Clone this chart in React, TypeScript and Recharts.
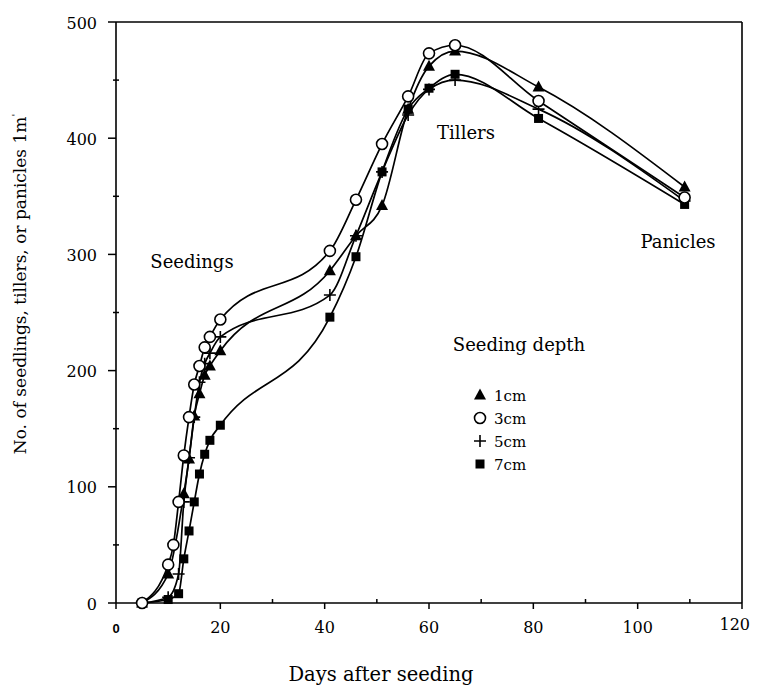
import React from "react";
import { LineChart, Line, XAxis, YAxis, ReferenceLine } from "recharts";

// ---- data ----
const days1 = [5, 10, 13, 14, 15, 16, 17, 18, 20, 41, 46, 51, 56, 60, 65, 81, 109];
const vals1 = [0, 25, 94, 124, 161, 180, 196, 204, 217, 286, 316, 342, 425, 462, 475, 444, 358];

const days3 = [5, 10, 11, 12, 13, 14, 15, 16, 17, 18, 20, 41, 46, 51, 56, 60, 65, 81, 109];
const vals3 = [0, 33, 50, 87, 127, 160, 188, 204, 220, 229, 244, 303, 347, 395, 436, 473, 480, 432, 349];

const days5 = [5, 10, 12, 13, 14, 15, 16, 17, 18, 20, 41, 46, 51, 56, 60, 65, 81, 109];
const vals5 = [0, 5, 25, 87, 125, 160, 190, 206, 215, 229, 265, 316, 371, 420, 442, 450, 425, 346];

const days7 = [5, 10, 12, 13, 14, 15, 16, 17, 18, 20, 41, 46, 51, 56, 60, 65, 81, 109];
const vals7 = [0, 3, 8, 38, 62, 87, 111, 128, 140, 153, 246, 298, 371, 425, 443, 455, 417, 343];

const xTicks = [0, 10, 20, 30, 40, 50, 60, 70, 80, 90, 100, 110, 120];
const xMajor = [0, 20, 40, 60, 80, 100, 120];
const yTicks = [0, 50, 100, 150, 200, 250, 300, 350, 400, 450, 500];
const yMajor = [0, 100, 200, 300, 400, 500];

const seriesNames = ["1cm", "3cm", "5cm", "7cm"];

const toRows = (d: number[], v: number[]) => d.map((day, i) => ({ day, v: v[i] }));
const data1 = toRows(days1, vals1);
const data3 = toRows(days3, vals3);
const data5 = toRows(days5, vals5);
const data7 = toRows(days7, vals7);

const SERIF = "'DejaVu Serif', serif";

// ---- markers ----
const Tri = ({ cx, cy }: any) => (
  <path d={`M${cx},${cy - 6.5} L${cx + 6},${cy + 4.5} L${cx - 6},${cy + 4.5} Z`} fill="#000" />
);
const Circ = ({ cx, cy }: any) => (
  <circle cx={cx} cy={cy} r={5.5} fill="#fff" stroke="#000" strokeWidth={1.6} />
);
const Plus = ({ cx, cy }: any) => (
  <path d={`M${cx - 6},${cy} H${cx + 6} M${cx},${cy - 6} V${cy + 6}`} stroke="#000" strokeWidth={1.6} fill="none" />
);
const Sq = ({ cx, cy }: any) => (
  <rect x={cx - 4.5} y={cy - 4.5} width={9} height={9} fill="#000" />
);

const mk = (C: any) => (p: any) => <C key={`d${p.index}`} cx={p.cx} cy={p.cy} />;

// ---- ticks ----
const XTick = (props: any) => {
  const { x, y, payload } = props;
  const v = payload.value;
  const major = xMajor.includes(v);
  const last = v === 120;
  return (
    <g>
      {major ? (
        <line x1={x} x2={x} y1={y} y2={y + 6} stroke="#000" strokeWidth={1.5} />
      ) : (
        <line x1={x} x2={x} y1={y} y2={y - 4} stroke="#000" strokeWidth={1.5} />
      )}
      {major && (
        v === 0 ? (
          <text x={x} y={y + 25} textAnchor="middle" dominantBaseline="central"
            style={{ fontFamily: "'Liberation Sans', Arial, sans-serif", fontWeight: 700, fontSize: 13 }} fill="#000">0</text>
        ) : (
          <text x={last ? x + 8 : x} y={last ? y + 21 : y + 24} textAnchor={last ? "end" : "middle"} dominantBaseline="central"
            style={{ fontFamily: SERIF, fontSize: 16 }} fill="#000">{v}</text>
        )
      )}
    </g>
  );
};

const YTick = (props: any) => {
  const { x, y, payload } = props;
  const v = payload.value;
  const major = yMajor.includes(v);
  return (
    <g>
      {major ? (
        <line x1={x - 8} x2={x} y1={y} y2={y} stroke="#000" strokeWidth={1.5} />
      ) : (
        <line x1={x - 3} x2={x + 3} y1={y} y2={y} stroke="#000" strokeWidth={1.5} />
      )}
      {major && (
        <text x={x - 19} y={y + 1} textAnchor="end" dominantBaseline="central"
          style={{ fontFamily: SERIF, fontSize: 16 }} fill="#000">{v}</text>
      )}
    </g>
  );
};

const legendMarkers = [Tri, Circ, Plus, Sq];
const LegendBox = () => (
  <svg width={80} height={100} style={{ position: "absolute", left: 472 - 8, top: 385 - 8, overflow: "visible" }}>
    {seriesNames.map((n, i) => {
      const M = legendMarkers[i];
      const cy = 10 + i * 23;
      return (
        <g key={n}>
          <M cx={8} cy={cy} />
          <text x={22} y={cy + 1} dominantBaseline="central" style={{ fontFamily: SERIF, fontSize: 15 }} fill="#000">{n}</text>
        </g>
      );
    })}
  </svg>
);

const Ann = ({ x, y, size = 18, children }: any) => (
  <div style={{
    position: "absolute", left: x - 8, top: y - 8, transform: "translate(-50%,-50%)",
    fontFamily: SERIF, fontSize: size, whiteSpace: "nowrap", color: "#000", lineHeight: 1,
  }}>{children}</div>
);

export default function App() {
  const W = 743, H = 679;
  return (
    <div style={{ position: "relative", width: W, height: H, background: "#fff" }}>
      <LineChart width={W} height={H} margin={{ top: 14, right: 9, left: 48, bottom: 54 }}
        style={{ overflow: "visible" }}>
        <XAxis type="number" dataKey="day" domain={[0, 120]} ticks={xTicks} interval={0}
          tick={<XTick />} tickLine={false} tickSize={0} tickMargin={0} height={30}
          axisLine={{ stroke: "#000", strokeWidth: 1.6 }} allowDataOverflow />
        <YAxis type="number" domain={[0, 500]} ticks={yTicks} interval={0}
          tick={<YTick />} tickLine={false} tickSize={0} tickMargin={0} width={60}
          axisLine={{ stroke: "#000", strokeWidth: 1.6 }} />
        <ReferenceLine y={500} stroke="#000" strokeWidth={1.6} />
        <ReferenceLine x={120} stroke="#000" strokeWidth={1.6} />
        <Line data={data7} dataKey="v" name="7cm" type="monotone" stroke="#000" strokeWidth={1.7}
          dot={mk(Sq)} isAnimationActive={false} />
        <Line data={data5} dataKey="v" name="5cm" type="monotone" stroke="#000" strokeWidth={1.7}
          dot={mk(Plus)} isAnimationActive={false} />
        <Line data={data1} dataKey="v" name="1cm" type="monotone" stroke="#000" strokeWidth={1.7}
          dot={mk(Tri)} isAnimationActive={false} />
        <Line data={data3} dataKey="v" name="3cm" type="monotone" stroke="#000" strokeWidth={1.7}
          dot={mk(Circ)} isAnimationActive={false} />
      </LineChart>
      <LegendBox />
      <Ann x={192} y={262}>Seedings</Ann>
      <Ann x={466} y={133}>Tillers</Ann>
      <Ann x={678} y={242}>Panicles</Ann>
      <Ann x={519} y={345}>Seeding depth</Ann>
      <Ann x={381} y={675} size={19.5}>Days after seeding</Ann>
      <div style={{
        position: "absolute", left: 20 - 8, top: 284 - 8,
        transform: "translate(-50%,-50%) rotate(-90deg)",
        fontFamily: SERIF, fontSize: 17, whiteSpace: "nowrap", color: "#000", lineHeight: 1,
      }}>No. of seedlings, tillers, or panicles 1m<sup style={{ fontSize: 10 }}>'</sup></div>
    </div>
  );
}
